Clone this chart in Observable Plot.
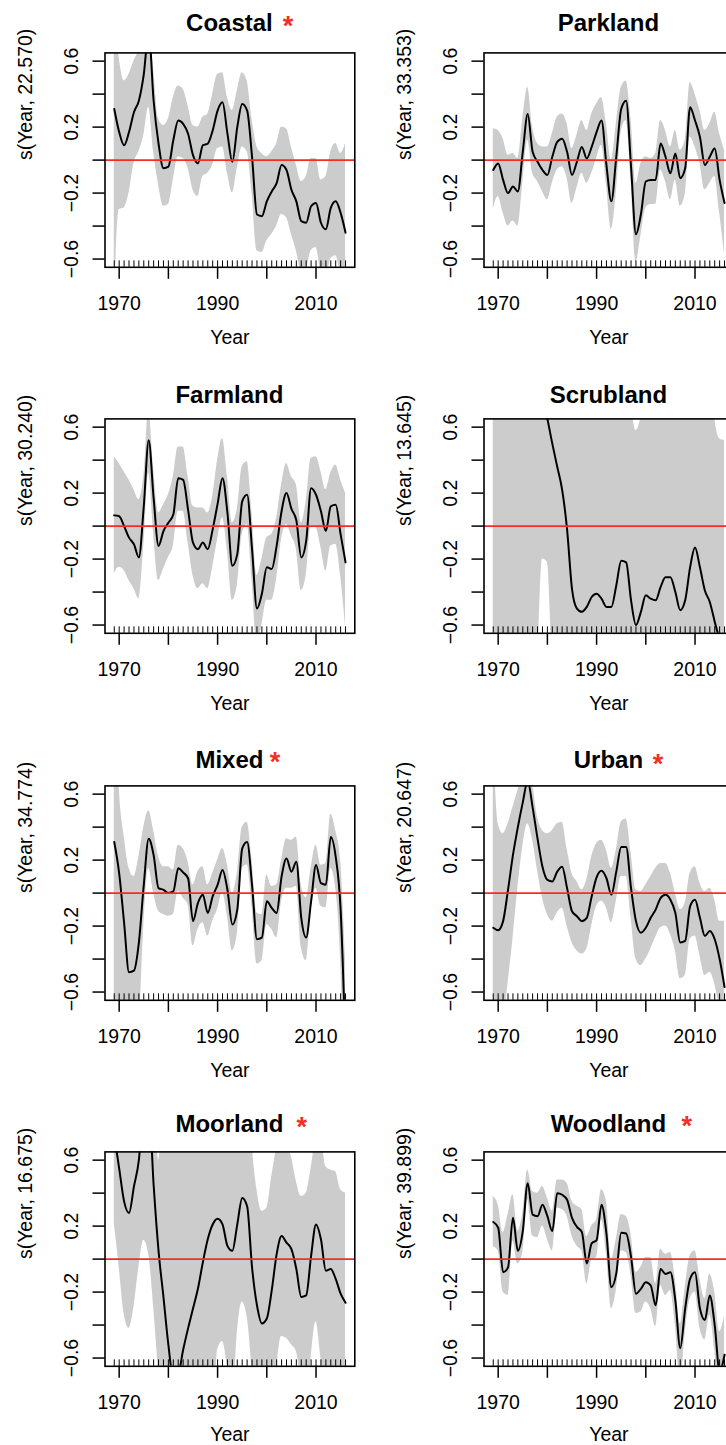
<!DOCTYPE html>
<html>
<head>
<meta charset="utf-8">
<script src="https://cdn.jsdelivr.net/npm/d3@7"></script>
<script src="https://cdn.jsdelivr.net/npm/@observablehq/plot@0.6"></script>
<style>
  html, body { margin: 0; padding: 0; background: #fff; }
  #wrap { position: relative; width: 726px; height: 1445px; overflow: hidden; background: #fff;
          font-family: "Liberation Sans", Arial, Helvetica, sans-serif; }
  .panel { position: absolute; width: 379px; height: 366.4px; overflow: visible; }
  .panel svg { display: block; max-width: none !important; width: 379px !important; height: 366.4px !important; }
  #titles { position: absolute; left: 0; top: 0; pointer-events: none; }
</style>
</head>
<body>
<div id="wrap"></div>
<script>
// ---------- data ----------
const years = [1969,1970,1971,1972,1973,1974,1975,1976,1977,1978,
               1979,1980,1981,1982,1983,1984,1985,1986,1987,1988,
               1989,1990,1991,1992,1993,1994,1995,1996,1997,1998,
               1999,2000,2001,2002,2003,2004,2005,2006,2007,2008,
               2009,2010,2011,2012,2013,2014,2015,2016];

const xTickValues = [1970, 1980, 1990, 2000, 2010];
const xLabelValues = [1970, 1990, 2010];
const yTickValues = [-0.6, -0.4, -0.2, 0, 0.2, 0.4, 0.6];
const yLabelValues = [-0.6, -0.2, 0.2, 0.6];
const yLabelText = ["\u22120.6", "\u22120.2", "0.2", "0.6"];

const panelNames = ["Coastal", "Parkland", "Farmland", "Scrubland", "Mixed", "Urban", "Moorland", "Woodland"];
const panelEdf = ["22.570", "33.353", "30.240", "13.645", "34.774", "20.647", "16.675", "39.899"];
const panelStar = [true, false, false, false, true, true, true, true];

const coastalFit = [0.31,0.17,0.09,0.17,0.29,0.36,0.52,0.78,0.36,0.10,
  -0.05,-0.04,0.12,0.24,0.22,0.16,0.03,-0.02,0.09,0.10,
  0.18,0.30,0.35,0.16,-0.01,0.20,0.34,0.30,0.02,-0.33,
  -0.34,-0.25,-0.19,-0.14,-0.03,-0.06,-0.18,-0.25,-0.37,-0.38,
  -0.28,-0.26,-0.38,-0.42,-0.29,-0.25,-0.32,-0.44];
const coastalUp = [0.90,0.62,0.48,0.52,0.60,0.66,0.72,0.80,0.55,0.25,
  0.21,0.25,0.38,0.45,0.43,0.33,0.21,0.20,0.26,0.28,
  0.40,0.52,0.53,0.38,0.30,0.42,0.53,0.48,0.25,0.08,
  0.04,0.02,0.05,0.10,0.20,0.19,0.08,-0.03,-0.13,-0.10,
  0.01,0.01,-0.12,-0.10,0.05,0.10,0.04,0.10];
const coastalLo = [-0.90,-0.30,-0.29,-0.20,-0.02,0.05,0.15,0.32,0.05,-0.15,
  -0.28,-0.27,-0.12,0.02,0.01,-0.05,-0.18,-0.22,-0.10,-0.08,
  -0.03,0.07,0.08,-0.08,-0.20,-0.05,0.08,0.05,-0.20,-0.55,
  -0.56,-0.49,-0.45,-0.40,-0.33,-0.35,-0.45,-0.55,-0.67,-0.66,
  -0.55,-0.53,-0.68,-0.72,-0.60,-0.58,-0.70,-0.90];

const parklandFit = [-0.06,-0.02,-0.12,-0.20,-0.16,-0.19,0.05,0.28,0.05,-0.01,
  -0.06,-0.09,0.02,0.11,0.13,0.05,-0.09,-0.01,0.08,0.01,
  0.08,0.17,0.24,-0.03,-0.25,0.02,0.31,0.36,-0.04,-0.45,
  -0.33,-0.13,-0.12,-0.12,0.10,0.02,-0.08,0.04,-0.11,-0.05,
  0.32,0.24,0.14,-0.03,0.02,0.07,-0.12,-0.26];
const parklandUp = [0.19,0.18,0.13,0.03,0.04,0.01,0.25,0.44,0.20,0.10,
  0.08,0.08,0.16,0.26,0.28,0.22,0.07,0.15,0.24,0.18,
  0.28,0.34,0.38,0.22,0.00,0.22,0.44,0.48,0.25,-0.14,
  -0.02,0.02,0.01,0.04,0.24,0.18,0.08,0.18,0.06,0.12,
  0.47,0.40,0.30,0.18,0.22,0.29,0.16,0.06];
const parklandLo = [-0.30,-0.22,-0.32,-0.40,-0.37,-0.40,-0.14,0.12,-0.08,-0.13,
  -0.19,-0.24,-0.14,-0.06,-0.04,-0.11,-0.26,-0.17,-0.08,-0.14,
  -0.08,0.01,0.09,-0.15,-0.42,-0.20,0.17,0.24,-0.12,-0.62,
  -0.46,-0.29,-0.27,-0.27,-0.06,-0.13,-0.24,-0.12,-0.28,-0.21,
  0.14,0.08,-0.02,-0.18,-0.14,-0.10,-0.32,-0.57];

const farmlandFit = [0.065,0.06,0.00,-0.07,-0.11,-0.19,0.12,0.52,0.17,-0.12,
  -0.03,0.02,0.07,0.29,0.28,0.10,-0.10,-0.14,-0.10,-0.14,
  -0.02,0.135,0.29,0.08,-0.24,-0.17,0.15,0.19,-0.14,-0.50,
  -0.41,-0.25,-0.26,-0.12,0.09,0.20,0.105,0.035,-0.19,-0.09,
  0.23,0.19,0.09,-0.03,0.12,0.13,-0.05,-0.22];
const farmlandUp = [0.42,0.38,0.33,0.28,0.22,0.16,0.30,0.70,0.35,0.08,
  0.13,0.19,0.30,0.48,0.48,0.30,0.12,0.11,0.11,0.08,
  0.18,0.40,0.53,0.30,0.02,0.10,0.36,0.39,0.08,-0.30,
  -0.20,-0.07,-0.05,0.05,0.25,0.38,0.30,0.25,0.02,0.15,
  0.41,0.42,0.33,0.22,0.32,0.37,0.28,0.20];
const farmlandLo = [-0.29,-0.25,-0.27,-0.33,-0.38,-0.44,-0.12,0.32,-0.05,-0.33,
  -0.26,-0.19,-0.12,0.09,0.09,-0.10,-0.30,-0.38,-0.35,-0.38,
  -0.25,-0.08,0.05,-0.15,-0.45,-0.36,-0.05,0.01,-0.33,-0.72,
  -0.60,-0.45,-0.45,-0.32,-0.08,0.01,-0.06,-0.14,-0.39,-0.30,
  0.00,-0.01,-0.13,-0.27,-0.12,-0.11,-0.30,-0.61];

const scrublandFit = [1.9,1.8,1.7,1.6,1.5,1.4,1.3,1.18,1.04,0.90,
  0.78,0.65,0.50,0.36,0.22,-0.02,-0.38,-0.50,-0.52,-0.49,
  -0.43,-0.41,-0.44,-0.49,-0.49,-0.36,-0.21,-0.22,-0.45,-0.60,
  -0.52,-0.42,-0.44,-0.45,-0.37,-0.31,-0.31,-0.40,-0.51,-0.45,
  -0.25,-0.13,-0.25,-0.39,-0.46,-0.58,-0.70,-0.90];
const scrublandUp = [1.5,1.5,1.5,1.5,1.5,1.5,1.5,1.5,1.5,1.5,
  1.5,1.5,1.5,1.5,1.5,1.5,1.5,1.5,1.5,1.5,
  1.5,1.5,1.5,1.5,1.5,1.5,1.5,1.5,0.80,0.58,
  0.66,1.5,1.5,1.5,1.5,1.5,1.5,1.5,1.5,1.5,
  1.5,1.5,1.5,1.5,1.5,0.66,0.53,0.52];
const scrublandLo = [-1.5,-1.5,-1.5,-1.5,-1.5,-1.5,-1.5,-1.5,-1.5,-0.85,
  -0.20,-0.22,-0.85,-1.5,-1.5,-1.5,-1.5,-1.5,-1.5,-1.5,
  -1.5,-1.5,-1.5,-1.5,-1.5,-1.5,-1.5,-1.5,-1.5,-1.5,
  -1.5,-1.5,-1.5,-1.5,-1.5,-1.5,-1.5,-1.5,-1.5,-1.5,
  -1.5,-1.5,-1.5,-1.5,-1.5,-1.5,-1.5,-1.5];

const mixedFit = [0.31,0.12,-0.18,-0.48,-0.47,-0.30,0.05,0.33,0.23,0.03,
  0.02,0.00,0.01,0.15,0.125,0.09,-0.17,-0.06,-0.01,-0.12,
  -0.02,0.05,0.14,0.02,-0.19,-0.10,0.27,0.31,0.05,-0.28,
  -0.27,-0.05,-0.09,-0.12,0.10,0.21,0.13,0.19,-0.15,-0.27,
  -0.05,0.17,0.06,0.05,0.34,0.22,-0.10,-0.95];
const mixedUp = [1.5,0.65,0.35,0.15,0.10,0.22,0.40,0.50,0.38,0.22,
  0.16,0.16,0.14,0.29,0.27,0.19,0.05,0.13,0.16,0.05,
  0.12,0.20,0.27,0.17,0.00,0.12,0.40,0.43,0.20,-0.12,
  -0.13,0.11,0.04,0.05,0.20,0.33,0.32,0.34,0.05,-0.03,
  0.15,0.29,0.17,0.18,0.48,0.38,0.20,-0.40];
const mixedLo = [-1.5,-1.2,-1.0,-1.0,-1.0,-0.85,-0.20,0.15,0.00,-0.11,
  -0.13,-0.14,-0.13,0.01,-0.03,-0.07,-0.32,-0.22,-0.18,-0.26,
  -0.17,-0.10,0.00,-0.14,-0.35,-0.25,0.15,0.17,-0.08,-0.43,
  -0.41,-0.19,-0.22,-0.27,-0.05,0.03,0.03,0.04,-0.33,-0.41,
  -0.10,0.03,-0.08,-0.09,0.15,0.03,-0.40,-1.5];

const urbanFit = [-0.21,-0.225,-0.17,0.02,0.23,0.40,0.55,0.68,0.52,0.33,
  0.16,0.08,0.07,0.13,0.16,0.03,-0.11,-0.14,-0.17,-0.15,
  -0.02,0.095,0.135,0.09,-0.01,0.13,0.28,0.28,0.03,-0.17,
  -0.24,-0.21,-0.15,-0.10,-0.03,-0.01,-0.04,-0.12,-0.30,-0.29,
  -0.08,-0.04,-0.15,-0.26,-0.23,-0.28,-0.40,-0.57];
const urbanUp = [1.0,0.42,0.36,0.42,0.52,0.62,0.72,0.80,0.66,0.46,
  0.38,0.36,0.38,0.42,0.43,0.27,0.12,0.07,0.02,0.08,
  0.22,0.30,0.32,0.26,0.15,0.26,0.43,0.45,0.25,0.02,
  0.01,0.05,0.10,0.15,0.18,0.18,0.12,0.00,-0.10,-0.06,
  0.12,0.16,0.06,0.01,0.03,-0.04,-0.17,-0.17];
const urbanLo = [-1.2,-1.0,-0.80,-0.55,-0.28,0.03,0.28,0.42,0.32,0.135,
  -0.03,-0.13,-0.17,-0.12,-0.09,-0.20,-0.30,-0.35,-0.37,-0.34,
  -0.20,-0.08,-0.05,-0.09,-0.18,-0.05,0.10,0.10,-0.15,-0.40,
  -0.44,-0.40,-0.34,-0.27,-0.21,-0.20,-0.25,-0.35,-0.52,-0.50,
  -0.28,-0.26,-0.38,-0.50,-0.48,-0.55,-0.70,-0.85];

const moorlandFit = [0.75,0.55,0.35,0.28,0.44,0.60,0.95,0.95,0.45,0.05,
  -0.23,-0.52,-0.72,-0.70,-0.55,-0.42,-0.30,-0.18,-0.02,0.12,
  0.21,0.245,0.21,0.08,0.05,0.21,0.37,0.32,-0.05,-0.28,
  -0.39,-0.36,-0.19,0.03,0.14,0.10,0.06,-0.06,-0.23,-0.22,
  0.02,0.21,0.12,-0.07,-0.06,-0.12,-0.21,-0.265];
const moorlandUp = [1.5,1.5,1.5,1.5,1.5,1.5,1.5,1.5,1.2,0.60,
  1.0,1.5,1.5,1.5,1.5,1.5,1.5,1.5,1.5,1.5,
  1.5,1.5,1.5,1.5,1.5,1.5,1.5,1.2,0.70,0.42,
  0.29,0.31,0.50,0.68,0.85,0.70,0.62,0.47,0.38,0.40,
  0.55,0.72,0.72,0.56,0.54,0.53,0.42,0.40];
const moorlandLo = [0.22,-0.05,-0.33,-0.42,-0.29,-0.05,0.115,0.03,-0.29,-0.70,
  -1.2,-1.2,-1.2,-1.2,-1.2,-1.2,-1.2,-1.2,-1.2,-1.2,
  -1.2,-0.55,-0.50,-0.65,-0.90,-0.45,-0.26,-0.35,-0.68,-1.2,
  -1.2,-1.2,-1.2,-0.70,-0.47,-0.48,-0.52,-0.56,-0.75,-0.95,
  -0.60,-0.38,-0.60,-0.90,-1.2,-1.2,-1.2,-1.2];

const woodlandFit = [0.225,0.19,-0.08,-0.05,0.25,0.05,0.17,0.46,0.27,0.26,
  0.33,0.26,0.17,0.40,0.39,0.36,0.25,0.195,0.165,-0.026,
  0.095,0.115,0.33,0.155,-0.17,-0.087,0.16,0.155,0.014,-0.21,
  -0.18,-0.14,-0.16,-0.28,-0.06,-0.09,-0.08,-0.25,-0.54,-0.30,
  -0.12,-0.08,-0.30,-0.37,-0.22,-0.40,-0.68,-0.58];
const woodlandUp = [0.38,0.33,0.16,0.27,0.39,0.17,0.28,0.54,0.41,0.40,
  0.44,0.37,0.29,0.48,0.48,0.46,0.35,0.32,0.30,0.135,
  0.20,0.24,0.42,0.35,0.00,0.12,0.27,0.26,0.15,-0.08,
  -0.05,0.01,0.01,-0.15,0.06,0.03,0.04,-0.12,-0.39,-0.17,
  0.02,0.05,-0.12,-0.24,-0.09,-0.20,-0.44,-0.35];
const woodlandLo = [0.075,0.05,-0.20,-0.22,0.11,-0.03,0.04,0.36,0.14,0.13,
  0.20,0.12,0.05,0.31,0.30,0.26,0.14,0.08,0.05,-0.15,
  -0.01,0.01,0.24,0.03,-0.30,-0.19,0.05,0.04,-0.10,-0.33,
  -0.32,-0.26,-0.30,-0.41,-0.16,-0.22,-0.19,-0.40,-0.75,-0.45,
  -0.24,-0.20,-0.42,-0.49,-0.34,-0.55,-0.90,-0.80];

const panelSeries = [
  [coastalFit, coastalUp, coastalLo],
  [parklandFit, parklandUp, parklandLo],
  [farmlandFit, farmlandUp, farmlandLo],
  [scrublandFit, scrublandUp, scrublandLo],
  [mixedFit, mixedUp, mixedLo],
  [urbanFit, urbanUp, urbanLo],
  [moorlandFit, moorlandUp, moorlandLo],
  [woodlandFit, woodlandUp, woodlandLo]
];

// ---------- layout / style ----------
const COL_W = 379, ROW_H = 366.4;
const M = {top: 52.4, left: 104.5, right: 24.7, bottom: 99.6};
const X_DOMAIN = [1967.12, 2017.88];
const Y_DOMAIN = [-0.65, 0.65];
const RED = "#f52d24";
const BAND = "#cccccc";
const FONT = "'Liberation Sans', Arial, Helvetica, sans-serif";
const titleBaseline = [31, 403.3, 768, 1131.7];
const xTitleOffset = [63, 63, 63, 60.5];
const starPos = {0: [288, 34.6], 4: [275, 771.3], 5: [658, 772.9], 6: [301.7, 1136.3], 7: [686.7, 1134.6]};

const wrap = document.getElementById("wrap");

panelSeries.forEach(([fit, up, lo], i) => {
  const col = i % 2, row = Math.floor(i / 2);
  const data = years.map((y, k) => ({year: y, fit: fit[k], up: up[k], lo: lo[k]}));
  const chart = Plot.plot({
    width: COL_W,
    height: ROW_H,
    marginTop: M.top,
    marginLeft: M.left,
    marginRight: M.right,
    marginBottom: M.bottom,
    x: {domain: X_DOMAIN, label: null},
    y: {domain: Y_DOMAIN, label: null},
    style: {fontFamily: FONT, fontSize: "19.5px", color: "black", background: "transparent", overflow: "visible"},
    marks: [
      Plot.areaY(data, {x: "year", y1: "lo", y2: "up", fill: BAND, curve: "monotone-x", clip: true}),
      Plot.lineY(data, {x: "year", y: "fit", stroke: "black", strokeWidth: 2, curve: "monotone-x", clip: true}),
      Plot.ruleY([0], {stroke: RED, strokeWidth: 1.8}),
      Plot.ruleX(years, {x: d => d, y1: () => Y_DOMAIN[0], y2: () => Y_DOMAIN[0] + 0.03 * (Y_DOMAIN[1] - Y_DOMAIN[0]), stroke: "black", strokeWidth: 1}),
      Plot.frame({stroke: "black", strokeWidth: 1.6}),
      Plot.axisX(xTickValues, {tickSize: 12, fill: "none", strokeWidth: 1.5, label: null}),
      Plot.axisY(yTickValues, {tickSize: 12, fill: "none", strokeWidth: 1.5, label: null}),
      Plot.axisX(xLabelValues, {tickSize: 0, tickPadding: 29, label: null, tickFormat: d => String(d)}),
      Plot.axisY(yLabelValues, {tickSize: 0, tickPadding: 27.5, tickRotate: -90, label: null,
                                 tickFormat: d => yLabelText[yLabelValues.indexOf(d)]}),
      Plot.text([`s(Year, ${panelEdf[i]})`], {text: d => d, frameAnchor: "left", rotate: -90, dx: -73.5, lineAnchor: "bottom"}),
      Plot.text(["Year"], {text: d => d, frameAnchor: "bottom", dy: xTitleOffset[row], lineAnchor: "top"})
    ]
  });
  chart.style.maxWidth = "none";
  chart.style.width = COL_W + "px";
  chart.style.height = ROW_H + "px";
  const div = document.createElement("div");
  div.className = "panel";
  div.style.left = (col * COL_W) + "px";
  div.style.top = (row * ROW_H) + "px";
  div.appendChild(chart);
  wrap.appendChild(div);
});

// ---------- titles ----------
const svgNS = "http://www.w3.org/2000/svg";
const tsvg = document.createElementNS(svgNS, "svg");
tsvg.setAttribute("id", "titles");
tsvg.setAttribute("width", 726);
tsvg.setAttribute("height", 1445);
panelNames.forEach((name, i) => {
  const col = i % 2, row = Math.floor(i / 2);
  const cx = col * COL_W + M.left + (COL_W - M.left - M.right) / 2;
  const t = document.createElementNS(svgNS, "text");
  t.setAttribute("x", cx);
  t.setAttribute("y", titleBaseline[row]);
  t.setAttribute("text-anchor", "middle");
  t.setAttribute("font-family", FONT);
  t.setAttribute("font-weight", "bold");
  t.setAttribute("font-size", "24");
  t.textContent = name;
  tsvg.appendChild(t);
  if (panelStar[i]) {
    const s = document.createElementNS(svgNS, "text");
    s.setAttribute("x", starPos[i][0]);
    s.setAttribute("y", starPos[i][1]);
    s.setAttribute("text-anchor", "middle");
    s.setAttribute("font-family", FONT);
    s.setAttribute("font-weight", "bold");
    s.setAttribute("font-size", "27");
    s.setAttribute("fill", RED);
    s.textContent = "*";
    tsvg.appendChild(s);
  }
});
wrap.appendChild(tsvg);
</script>
</body>
</html>
